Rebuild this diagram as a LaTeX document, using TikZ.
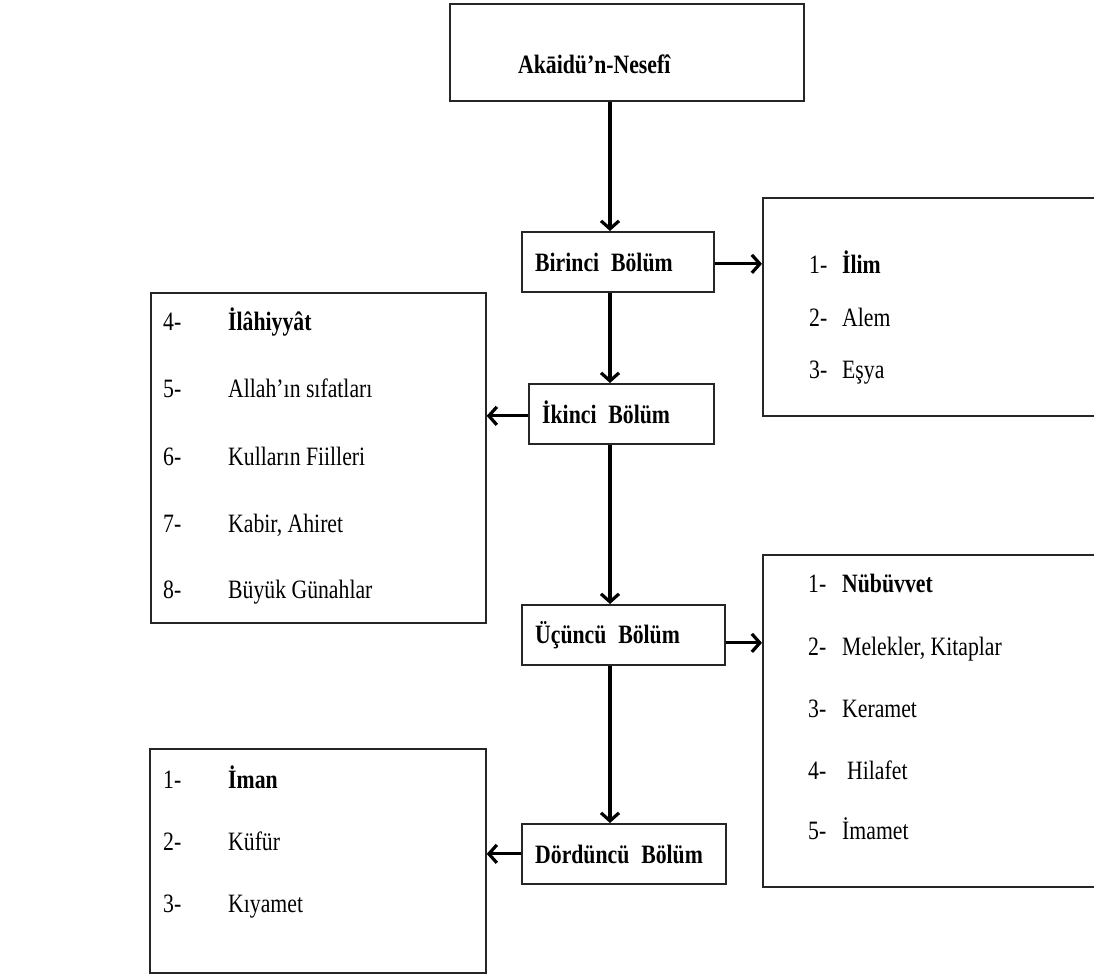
\documentclass[tikz,border=0pt]{standalone}
\usepackage{fontspec}
\setmainfont{Liberation Serif}[FakeStretch=0.82]
\usetikzlibrary{arrows.meta}
\tikzset{
  box/.style={draw=black!85, line width=1.7pt, fill=white, inner sep=0pt, anchor=north west},
  lbl/.style={anchor=base west, inner sep=0pt, font=\fontsize{26.5}{30}\selectfont},
  hd/.style={lbl, font=\fontsize{26.5}{30}\selectfont\bfseries},
  arr/.style={line width=3.2pt, black, -{Straight Barb[length=8pt,width=18pt]}}
}
\begin{document}
\begin{tikzpicture}[x=1pt,y=-1pt]
\path[use as bounding box] (0,0) rectangle (1094,975);
\clip (0,0) rectangle (1094,975);

% boxes
\node[box, minimum width=354pt, minimum height=97pt] (top) at (449,3) {};
\node[box, minimum width=192pt, minimum height=60pt] (b1) at (521,231) {};
\node[box, minimum width=185pt, minimum height=60pt] (b2) at (528,383) {};
\node[box, minimum width=203pt, minimum height=60pt] (b3) at (521,604) {};
\node[box, minimum width=204pt, minimum height=60pt] (b4) at (521,823) {};
\node[box, minimum width=360pt, minimum height=218pt] (r1) at (762,197) {};
\node[box, minimum width=360pt, minimum height=332pt] (r2) at (762,554) {};
\node[box, minimum width=335pt, minimum height=330pt] (l1) at (150,292) {};
\node[box, minimum width=336pt, minimum height=224pt] (l2) at (149,748) {};

% headings
\node[hd] (ttop) at (518,73) {Akāidü’n-Nesefî};
\node[hd] (tb1) at (535,271) {Birinci\hspace{0.45em}Bölüm};
\node[hd] (tb2) at (542,423) {İkinci\hspace{0.45em}Bölüm};
\node[hd] (tb3) at (535,643) {Üçüncü\hspace{0.45em}Bölüm};
\node[hd] (tb4) at (535,863) {Dördüncü\hspace{0.45em}Bölüm};

% right box 1
\node[lbl] (r1n1) at (809,273) {1-};
\node[hd]  (r1t1) at (842,273) {İlim};
\node[lbl] (r1n2) at (809,326) {2-};
\node[lbl] (r1t2) at (842,326) {Alem};
\node[lbl] (r1n3) at (809,378) {3-};
\node[lbl] (r1t3) at (842,378) {Eşya};

% left box 1
\node[lbl] (l1n1) at (163,330) {4-};
\node[hd]  (l1t1) at (228,330) {İlâhiyyât};
\node[lbl] (l1n2) at (163,397) {5-};
\node[lbl] (l1t2) at (228,397) {Allah’ın sıfatları};
\node[lbl] (l1n3) at (163,465) {6-};
\node[lbl] (l1t3) at (228,465) {Kulların Fiilleri};
\node[lbl] (l1n4) at (163,532) {7-};
\node[lbl] (l1t4) at (228,532) {Kabir, Ahiret};
\node[lbl] (l1n5) at (163,598) {8-};
\node[lbl] (l1t5) at (228,598) {Büyük Günahlar};

% right box 2
\node[lbl] (r2n1) at (808,592) {1-};
\node[hd]  (r2t1) at (842,592) {Nübüvvet};
\node[lbl] (r2n2) at (808,655) {2-};
\node[lbl] (r2t2) at (842,655) {Melekler, Kitaplar};
\node[lbl] (r2n3) at (808,717) {3-};
\node[lbl] (r2t3) at (842,717) {Keramet};
\node[lbl] (r2n4) at (808,779) {4-};
\node[lbl] (r2t4) at (847,779) {Hilafet};
\node[lbl] (r2n5) at (808,839) {5-};
\node[lbl] (r2t5) at (842,839) {İmamet};

% left box 2
\node[lbl] (l2n1) at (163,788) {1-};
\node[hd]  (l2t1) at (228,788) {İman};
\node[lbl] (l2n2) at (163,850) {2-};
\node[lbl] (l2t2) at (228,850) {Küfür};
\node[lbl] (l2n3) at (163,912) {3-};
\node[lbl] (l2t3) at (228,912) {Kıyamet};

% connectors
\coordinate (spine) at (610,0);
\draw[arr] (top.south -| spine) -- (b1.north -| spine);
\draw[arr] (b1.south -| spine) -- (b2.north -| spine);
\draw[arr] (b2.south -| spine) -- (b3.north -| spine);
\draw[arr] (b3.south -| spine) -- (b4.north -| spine);
\draw[arr] ([yshift=-2pt]b1.east) -- ([yshift=-2pt]b1.east -| r1.west);
\draw[arr] ([yshift=-2pt]b2.west) -- ([yshift=-2pt]b2.west -| l1.east);
\draw[arr] ([yshift=-8pt]b3.east) -- ([yshift=-8pt]b3.east -| r2.west);
\draw[arr] (b4.west) -- (b4.west -| l2.east);
\end{tikzpicture}
\end{document}
